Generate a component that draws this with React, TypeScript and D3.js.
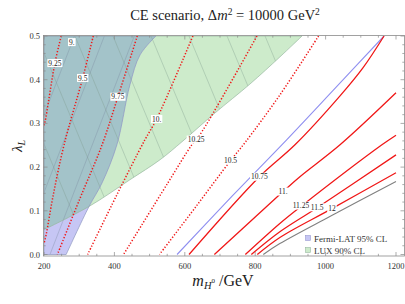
import React from 'react';
import * as d3 from 'd3';

type P = [number, number];

const xTicks = [200, 400, 600, 800, 1000, 1200];
const yTicks = [0, 0.1, 0.2, 0.3, 0.4, 0.5];

const fermiBoundary: P[] = [[518, 0.5], [473, 0.457], [444, 0.388], [407, 0.251], [365, 0.164], [328, 0.11], [263, 0]];
const luxBoundary: P[] = [[933, 0.5], [870, 0.452], [785, 0.39], [686, 0.324], [592, 0.258], [530, 0.217], [444, 0.171], [328, 0.11], [200, 0.057]];
const fermiLine: P[] = [[578, 0], [735, 0.134], [890, 0.263], [1030, 0.383], [1166, 0.5]];

const dottedLines: P[][] = [
  [[249, 0.5], [231, 0.438], [203, 0.304], [200, 0.296]],
  [[340, 0.5], [310, 0.404], [257, 0.251], [226, 0.135], [206, 0.045], [200, 0.025]],
  [[465, 0.5], [410, 0.361], [365, 0.251], [302, 0.128], [238, 0]],
  [[623, 0.5], [520, 0.31], [487, 0.263], [406, 0.135], [324, 0]],
  [[805, 0.5], [643, 0.274], [620, 0.251], [552, 0.164], [426, 0]],
  [[980, 0.5], [870, 0.365], [771, 0.256], [730, 0.215], [632, 0.11], [528, 0]],
];
const solidLines: P[][] = [
  [[612, 0], [812, 0.178], [913, 0.251], [1041, 0.363], [1106, 0.427], [1166, 0.5]],
  [[684, 0], [879, 0.144], [927, 0.178], [1041, 0.251], [1200, 0.37]],
  [[772, 0], [870, 0.071], [930, 0.11], [1160, 0.251], [1200, 0.273]],
  [[789, 0], [870, 0.052], [976, 0.107], [1200, 0.228]],
  [[806, 0], [870, 0.039], [1018, 0.105], [1200, 0.187]],
];
const grayLine: P[] = [[823, 0], [870, 0.025], [1012, 0.087], [1200, 0.167]];

const labelTexts = ['9.', '9.25', '9.5', '9.75', '10.', '10.25', '10.5', '10.75', '11.', '11.25', '11.5', '12'];
const labelPos: P[] = [[279, 0.486], [231, 0.438], [310, 0.404], [410, 0.361], [520, 0.31], [632, 0.263], [730, 0.215], [812, 0.178], [879, 0.144], [930, 0.112], [976, 0.108], [1018, 0.106]];

const luxMesh = [331, 439, 547, 655, 763, 871, 979, 1087];
const fermiMesh = [-38, 47, 132, 217];

const legendItems = ['Fermi-LAT 95% CL', 'LUX 90% CL'];

const SERIF = "'Liberation Serif', 'DejaVu Serif', serif";

export default function App() {
  const x = d3.scaleLinear().domain([200, 1200]).range([44, 396]);
  const y = d3.scaleLinear().domain([0, 0.5]).range([254.5, 36]);
  const curve = d3.line<P>().x(d => x(d[0])).y(d => y(d[1])).curve(d3.curveCatmullRom.alpha(0.5));
  const lin = d3.line<P>().x(d => x(d[0])).y(d => y(d[1]));

  const fermiPath = curve(fermiBoundary) + `L${x(200)},${y(0)}L${x(200)},${y(0.5)}Z`;
  const luxPath = curve(luxBoundary) + `L${x(200)},${y(0.5)}Z`;

  const fL = 43.5, fR = 404.5, fT = 35.5, fB = 256;

  const xMinor = d3.range(200, 1201, 50);
  const yMinor = d3.range(0, 0.5001, 0.02);

  const labelWidth = (s: string, fs: number) =>
    s.split('').reduce((a, c) => a + (c === '.' ? 0.25 : 0.5), 0) * fs;

  return (
    <svg width={405} height={304} style={{ position: 'absolute', left: 0, top: 0, background: '#fff' }}
      fontFamily={SERIF}>
      <defs>
        <clipPath id="plot"><rect x={fL} y={fT} width={fR - fL} height={fB - fT} /></clipPath>
        <clipPath id="fermiClip"><path d={fermiPath} /></clipPath>
        <clipPath id="luxClip"><path d={luxPath} /></clipPath>
      </defs>
      <rect x={0} y={0} width={405} height={304} fill="#fff" />
      <g clipPath="url(#plot)">
        <path d={luxPath} fill="#cdebcb" />
        <path d={fermiPath} fill="#c6c6f4" />
        <g clipPath="url(#fermiClip)">
          <path d={luxPath} fill="#a3c3c9" />
        </g>
        <g clipPath="url(#luxClip)">
          {luxMesh.map((c, i) => (
            <path key={'lm' + i} d={lin([[c, 0], [c - 259, 0.5]]) || ''} stroke="#7f9a8c" strokeOpacity={0.6} strokeWidth={0.6} fill="none" />
          ))}
        </g>
        <g clipPath="url(#fermiClip)">
          {fermiMesh.map((c, i) => (
            <path key={'fm' + i} d={lin([[c, 0], [c + 239.5, 0.5]]) || ''} stroke="#7a8aa0" strokeOpacity={0.6} strokeWidth={0.6} fill="none" />
          ))}
        </g>
        <path d={luxPath} fill="none" stroke="#98b8a0" strokeWidth={0.7} />
        <path d={fermiPath} fill="none" stroke="#8e98c0" strokeWidth={0.7} />

        <path d={curve(fermiLine) || ''} fill="none" stroke="#8f8ff0" strokeWidth={1.1} />
        {dottedLines.map((l, i) => (
          <path key={'d' + i} d={curve(l) || ''} fill="none" stroke="#f01818" strokeWidth={1.5} strokeDasharray="1.3,1.8" />
        ))}
        {solidLines.map((l, i) => (
          <path key={'s' + i} d={curve(l) || ''} fill="none" stroke="#f01818" strokeWidth={1.3} />
        ))}
        <path d={curve(grayLine) || ''} fill="none" stroke="#808080" strokeWidth={1.1} />

        {labelTexts.map((t, i) => {
          const fs = 7.5;
          const w = labelWidth(t, fs) + 2;
          const cx = x(labelPos[i][0]), cy = y(labelPos[i][1]);
          return (
            <g key={'lab' + i}>
              <rect x={cx - w / 2} y={cy - 4} width={w} height={8} fill="#fff" />
              <text x={cx} y={cy + 2.6} fontSize={fs} textAnchor="middle" fill="#222">{t}</text>
            </g>
          );
        })}
      </g>

      {/* frame */}
      <rect x={fL} y={fT} width={fR - fL} height={fB - fT} fill="none" stroke="#8a8a8a" strokeWidth={0.8} />
      {xMinor.map((v, i) => {
        const major = xTicks.includes(v);
        const len = major ? 4 : 2.2;
        return (
          <g key={'xt' + i} stroke="#8a8a8a" strokeWidth={0.7}>
            <line x1={x(v)} x2={x(v)} y1={fB} y2={fB - len} />
            <line x1={x(v)} x2={x(v)} y1={fT} y2={fT + len} />
          </g>
        );
      })}
      {yMinor.map((v, i) => {
        const major = Math.abs(v * 10 - Math.round(v * 10)) < 1e-6;
        const len = major ? 4 : 2.2;
        return (
          <g key={'yt' + i} stroke="#8a8a8a" strokeWidth={0.7}>
            <line x1={fL} x2={fL + len} y1={y(v)} y2={y(v)} />
            <line x1={fR} x2={fR - len} y1={y(v)} y2={y(v)} />
          </g>
        );
      })}
      {xTicks.map((v, i) => (
        <text key={'xl' + i} x={x(v)} y={268.5} fontSize={8.5} textAnchor="middle" fill="#333">{v}</text>
      ))}
      {yTicks.map((v, i) => (
        <text key={'yl' + i} x={40} y={y(v) + 3} fontSize={8.5} textAnchor="end" fill="#333">{v.toFixed(1)}</text>
      ))}

      {/* legend */}
      {legendItems.map((t, i) => (
        <g key={'lg' + i}>
          <rect x={305.5} y={235.5 + i * 12} width={5} height={5} fill={i === 0 ? '#c6c6f4' : '#cdebcb'} stroke={i === 0 ? '#9a9ad0' : '#98b8a0'} strokeWidth={0.6} />
          <text x={314} y={241.5 + i * 12} fontSize={9} fill="#333">{t}</text>
        </g>
      ))}

      {/* title */}
      <text x={225} y={20} fontSize={14.5} textAnchor="middle" fill="#222">
        CE scenario, Δ<tspan fontStyle="italic">m</tspan><tspan fontSize={9.5} dy={-5.5}>2</tspan><tspan dy={5.5}> = 10000 GeV</tspan><tspan fontSize={9.5} dy={-5.5}>2</tspan>
      </text>

      {/* x axis label */}
      <text x={223} y={286} fontSize={16} textAnchor="middle" fill="#222">
        <tspan fontStyle="italic">m</tspan><tspan fontStyle="italic" fontSize={10.5} dy={3}>H</tspan><tspan fontSize={7} dy={-6}>0</tspan><tspan dy={3}> /GeV</tspan>
      </text>

      {/* y axis label */}
      <text transform="translate(22,146) rotate(-90)" fontSize={15} textAnchor="middle" fill="#222">
        <tspan fontStyle="italic">λ</tspan><tspan fontStyle="italic" fontSize={10} dy={3}>L</tspan>
      </text>
    </svg>
  );
}
